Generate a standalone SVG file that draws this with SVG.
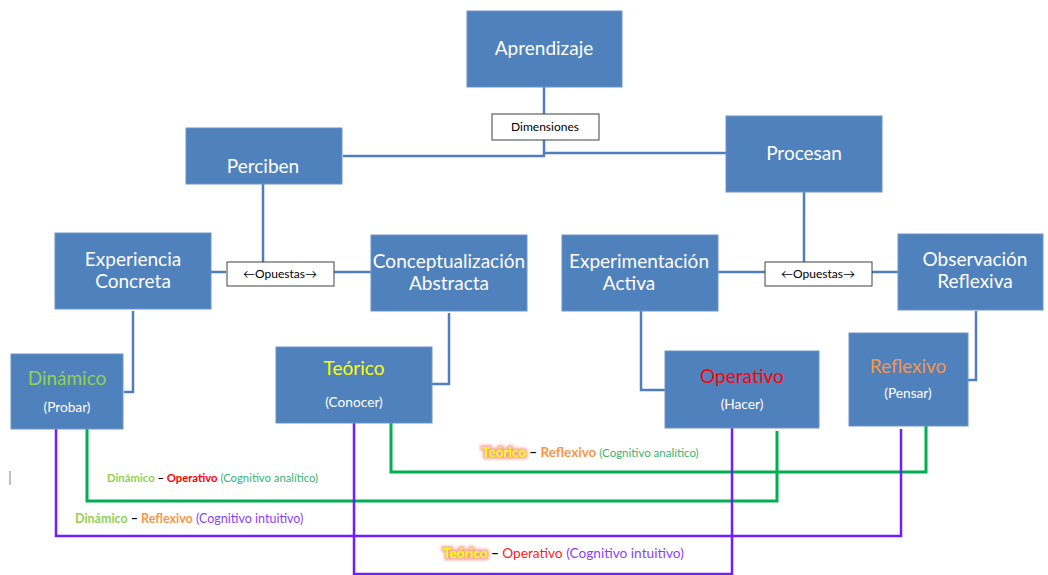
<svg xmlns="http://www.w3.org/2000/svg" width="1048" height="575" viewBox="0 0 1048 575">
<defs>
<style>
.node{fill:#4f81bd;stroke:#6d94c8;stroke-width:1}
.nt{font-family:Lato,"Liberation Sans",sans-serif;font-size:19px;fill:#ffffff;text-anchor:middle}
.sub{font-family:Lato,"Liberation Sans",sans-serif;font-size:13.7px;fill:#ffffff;text-anchor:middle}
.lbl{fill:#ffffff;stroke:#404040;stroke-width:1}
.lt{font-family:Lato,"Liberation Sans",sans-serif;font-size:12px;fill:#000000;text-anchor:middle}
.blue{fill:none;stroke:#4f7fbb;stroke-width:2.5}
.green{fill:none;stroke:#00b050;stroke-width:3}
.purple{fill:none;stroke:#6f1fff;stroke-width:2.5}
.cap{font-family:Lato,"Liberation Sans",sans-serif}
</style>
<filter id="glow" x="-20%" y="-40%" width="140%" height="180%">
<feMorphology in="SourceAlpha" operator="dilate" radius="1.5" result="d"/>
<feGaussianBlur in="d" stdDeviation="1.5" result="b"/>
<feFlood flood-color="#f79a8a" flood-opacity="0.9"/>
<feComposite in2="b" operator="in" result="g"/>
<feMerge><feMergeNode in="g"/><feMergeNode in="SourceGraphic"/></feMerge>
</filter>
</defs>

<g id="connectors">
<path class="blue" d="M544,87 V114 M544,140 V156 H343 M544,153 H726"/>
<path class="blue" d="M263,184 V262 M211,272 H226 M334,272 H371"/>
<path class="blue" d="M804,192 V262 M718,272 H765 M872,272 H899"/>
<path class="blue" d="M133,311 V392 H124"/>
<path class="blue" d="M449,313 V384 H432"/>
<path class="blue" d="M641,311 V390 H665"/>
<path class="blue" d="M976,311 V380 H968"/>
<path class="green" d="M87,429 V501 H777 V431"/>
<path class="green" d="M391,423 V472 H926 V426"/>
<path class="purple" d="M56,429 V536 H901 V429"/>
<path class="purple" d="M354,423 V574 H732 V424"/>
</g>

<g id="aprendizaje"><rect class="node" x="467" y="11" width="155" height="76"/><text class="nt" x="544" y="55">Aprendizaje</text></g>
<g id="dimensiones"><rect class="lbl" x="492" y="114" width="107" height="26"/><text class="lt" x="545" y="131">Dimensiones</text></g>
<g id="perciben"><rect class="node" x="186" y="128" width="156" height="56"/><text class="nt" x="263" y="173">Perciben</text></g>
<g id="procesan"><rect class="node" x="726" y="116" width="156" height="76"/><text class="nt" x="804" y="160">Procesan</text></g>
<g id="experiencia"><rect class="node" x="55" y="233" width="156" height="76"/><text class="nt" x="133" y="266">Experiencia</text><text class="nt" x="133" y="288">Concreta</text></g>
<g id="opuestas1"><rect class="lbl" x="227" y="262" width="107" height="24"/><text class="lt" x="280" y="278">←Opuestas→</text></g>
<g id="conceptualizacion"><rect class="node" x="371" y="235" width="156" height="76"/><text class="nt" x="449" y="268">Conceptualización</text><text class="nt" x="449" y="290">Abstracta</text></g>
<g id="experimentacion"><rect class="node" x="562" y="235" width="156" height="76"/><text class="nt" x="639" y="268">Experimentación</text><text class="nt" x="629" y="290">Activa</text></g>
<g id="opuestas2"><rect class="lbl" x="765" y="262" width="107" height="24"/><text class="lt" x="818" y="278">←Opuestas→</text></g>
<g id="observacion"><rect class="node" x="898" y="234" width="145" height="76"/><text class="nt" x="975" y="266">Observación</text><text class="nt" x="975" y="288">Reflexiva</text></g>
<g id="dinamico"><rect class="node" x="11" y="354" width="112" height="75"/><text class="nt" x="67" y="385" style="fill:#92d050">Dinámico</text><text class="sub" x="67" y="412">(Probar)</text></g>
<g id="teorico"><rect class="node" x="276" y="347" width="156" height="76"/><text class="nt" x="354" y="375" style="fill:#ffff00">Teórico</text><text class="sub" x="354" y="407">(Conocer)</text></g>
<g id="operativo"><rect class="node" x="665" y="351" width="154" height="77"/><text class="nt" x="742" y="383" style="fill:#ff0000">Operativo</text><text class="sub" x="742" y="409">(Hacer)</text></g>
<g id="reflexivo"><rect class="node" x="849" y="333" width="119" height="93"/><text class="nt" x="908" y="373" style="fill:#f79646">Reflexivo</text><text class="sub" x="908" y="398">(Pensar)</text></g>

<g id="labels">
<text class="cap" x="107" y="482" font-size="11.3"><tspan font-weight="bold" fill="#92d050">Dinámico</tspan><tspan font-weight="bold" fill="#000"> – </tspan><tspan font-weight="bold" fill="#ff0000">Operativo</tspan><tspan fill="#3cb371"> (Cognitivo analítico)</tspan></text>
<text class="cap" x="75" y="523" font-size="12.5"><tspan font-weight="bold" fill="#92d050">Dinámico</tspan><tspan font-weight="bold" fill="#000"> – </tspan><tspan font-weight="bold" fill="#f79646">Reflexivo</tspan><tspan fill="#8a3ffc"> (Cognitivo intuitivo)</tspan></text>
<text class="cap" x="482" y="457" font-size="13.5"><tspan font-weight="bold" fill="#ffff00" filter="url(#glow)">Teórico</tspan><tspan font-weight="bold" fill="#000"> – </tspan><tspan font-weight="bold" fill="#f79646">Reflexivo</tspan><tspan fill="#3cb371" font-size="11.5"> (Cognitivo analítico)</tspan></text>
<text class="cap" x="443" y="558" font-size="13.7"><tspan font-weight="bold" fill="#ffff00" filter="url(#glow)">Teórico</tspan><tspan font-weight="bold" fill="#000"> – </tspan><tspan fill="#ff2020">Operativo</tspan><tspan fill="#8a3ffc"> (Cognitivo intuitivo)</tspan></text>
</g>
<line x1="10" y1="471" x2="10" y2="485" stroke="#808080" stroke-width="1"/>
</svg>
